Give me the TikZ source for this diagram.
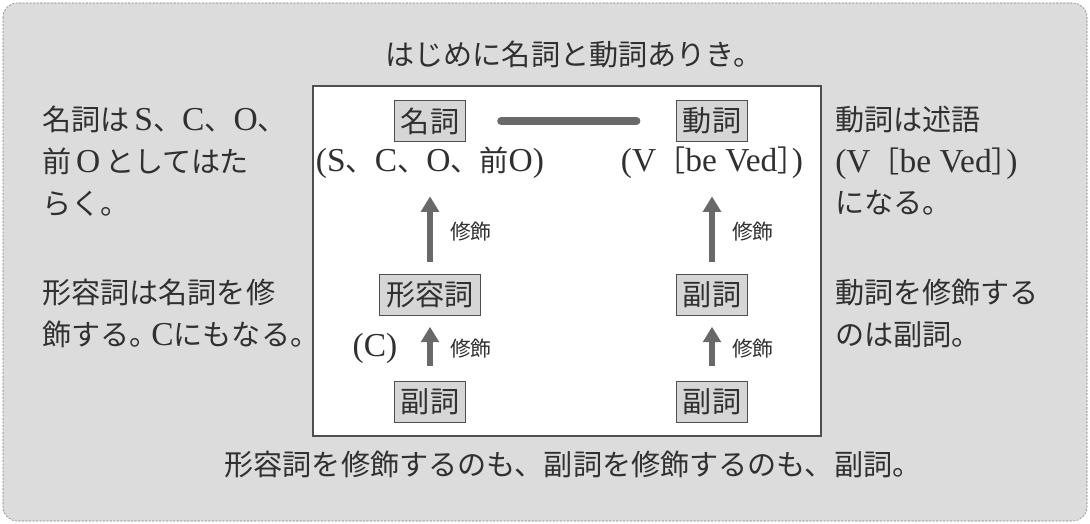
\documentclass[tikz,border=0pt]{standalone}
\usepackage{fontspec}
\setmainfont{Noto Sans CJK JP}
\newfontfamily\lat{Liberation Serif}[Scale=1.15]
\usetikzlibrary{arrows.meta, positioning}
\definecolor{panelgray}{RGB}{220,220,220}
\definecolor{boxgray}{RGB}{214,214,214}
\definecolor{linkgray}{RGB}{105,105,105}
\definecolor{inkgray}{RGB}{48,48,48}
\newcommand\la[1]{{\lat #1}}
\newcommand\mainfs{\fontsize{20.7pt}{29.6pt}\selectfont}
\newcommand\notefs{\fontsize{14.8pt}{16pt}\selectfont}
\tikzset{
    wordbox/.style={rectangle, draw=inkgray!85, fill=boxgray, line width=0.8pt,
                    inner xsep=4.7pt, inner ysep=0pt, minimum height=29pt,
                    font=\mainfs, text=inkgray},
    plain/.style={inner sep=0pt, font=\mainfs, text=inkgray},
    sidetext/.style={plain, align=left, anchor=north west},
    modarrow/.style={line width=4.5pt, linkgray, -{Triangle[width=12.5pt, length=11pt]}},
    modlabel/.style={font=\notefs, text=inkgray, inner sep=0pt, anchor=west, xshift=12pt}
}

\begin{document}
\begin{tikzpicture}[x=0.025cm, y=-0.025cm]
    \useasboundingbox (0,0) rectangle (1090,524);

    % Panel and inner frame
    \draw[draw=gray, fill=panelgray, dash pattern=on 1.5pt off 1pt, rounded corners=10pt]
        (3,3) rectangle (1087,521);
    \draw[draw=inkgray!85, fill=white, line width=0.8pt] (313,86) rectangle (821,436);

    % Headline and footline
    \node[plain] (title) at (574,54) {はじめに名詞と動詞ありき。};
    \node[plain] (footer) at (573,465) {形容詞を修飾するのも、副詞を修飾するのも、副詞。};

    % Side notes
    \node[sidetext] (nounnote) at (42,106)
        {名詞は\,\la{S}、\la{C}、\la{O}、\\前\,\la{O}\,としてはた\\らく。};
    \node[sidetext] (adjnote) at (42,279)
        {形容詞は名詞を修\\飾する。\kern-0.25em\la{C}にもなる。};
    \node[sidetext] (verbnote) at (835,106)
        {動詞は述語\\\la{(V}［\la{be Ved}］\kern-0.5em\la{)}\\になる。};
    \node[sidetext] (advnote) at (835,279)
        {動詞を修飾する\\のは副詞。};

    % Word boxes
    \node[wordbox] (noun) at (430,121) {名詞};
    \node[wordbox] (verb) at (712,121) {動詞};
    \node[plain] (nounrole) at (430,163) {\la{(S}、\la{C}、\la{O}、前\la{O)}};
    \node[plain] (verbrole) at (712,163) {\la{(V}［\la{be Ved}］\kern-0.5em\la{)}};
    \node[wordbox] (adj) at (430,295) {形容詞};
    \node[wordbox] (adv) at (712,295) {副詞};
    \node[wordbox] (adjmod) at (430,402) {副詞};
    \node[wordbox] (advmod) at (712,402) {副詞};

    % Links
    \draw[linkgray, line width=5.5pt, line cap=round, shorten <=0.87cm, shorten >=0.98cm]
        (noun) -- (verb);
    \draw[modarrow, shorten <=0.3cm, shorten >=0.43cm] (adj) -- (nounrole)
        node[modlabel, pos=0.45] {修飾};
    \draw[modarrow, shorten <=0.3cm, shorten >=0.43cm] (adv) -- (verbrole)
        node[modlabel, pos=0.45] {修飾};
    \draw[modarrow, shorten <=0.37cm, shorten >=0.27cm] (adjmod) -- (adj)
        node[modlabel, midway] {修飾}
        node[plain, midway, anchor=east, xshift=-21pt] {\la{(C)}};
    \draw[modarrow, shorten <=0.37cm, shorten >=0.27cm] (advmod) -- (adv)
        node[modlabel, midway] {修飾};
\end{tikzpicture}
\end{document}
